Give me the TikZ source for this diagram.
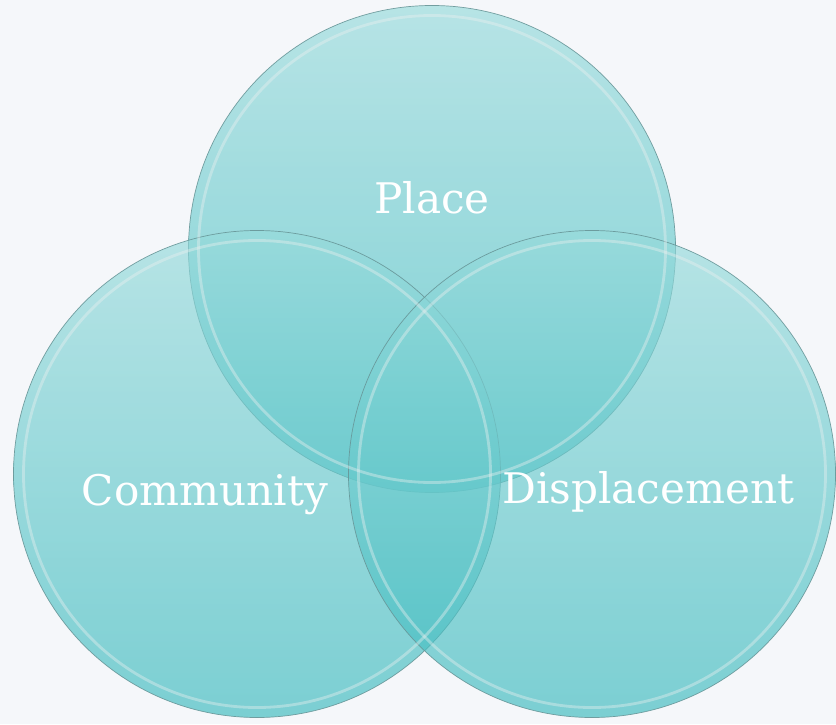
\documentclass[tikz,border=0pt]{standalone}
\usepackage{fontspec}
\setmainfont{DejaVu Serif}
\usetikzlibrary{positioning}
\definecolor{vennbg}{RGB}{245,247,250}
\definecolor{venntop}{RGB}{150,218,219}
\definecolor{vennbottom}{RGB}{58,186,190}
\definecolor{vennedge}{RGB}{104,150,152}
\definecolor{vennring}{RGB}{236,240,240}

\begin{document}
\begin{tikzpicture}[
    every node/.style={font=\fontsize{24}{28}\selectfont},
    bubble/.style={circle, minimum size=9.74cm, inner sep=0pt, draw=vennedge, thin, top color=venntop, bottom color=vennbottom, fill opacity=0.65, draw opacity=0.9},
    ring/.style={vennring, line width=1.6pt, opacity=0.4},
    vennlabel/.style={text=white, anchor=base}
]

% Canvas
\fill[vennbg] (0,0) rectangle (16.72,14.48);
\useasboundingbox (0,0) rectangle (16.72,14.48);

% Three overlapping sets
\node[bubble] (place) at (8.64,9.50) {};
\node[bubble] (community) at (5.14,5.00) {};
\node[bubble] (displacement) at (11.84,5.00) {};

% Inner glass rings
\draw[ring] (place.center) circle (4.67);
\draw[ring] (community.center) circle (4.67);
\draw[ring] (displacement.center) circle (4.67);

% Set labels
\node[vennlabel] (placetext) at (8.64,10.22) {Place};
\node[vennlabel] (communitytext) at (4.10,4.38) {Community};
\node[vennlabel] (displacementtext) at (12.97,4.42) {Displacement};

\end{tikzpicture}
\end{document}
